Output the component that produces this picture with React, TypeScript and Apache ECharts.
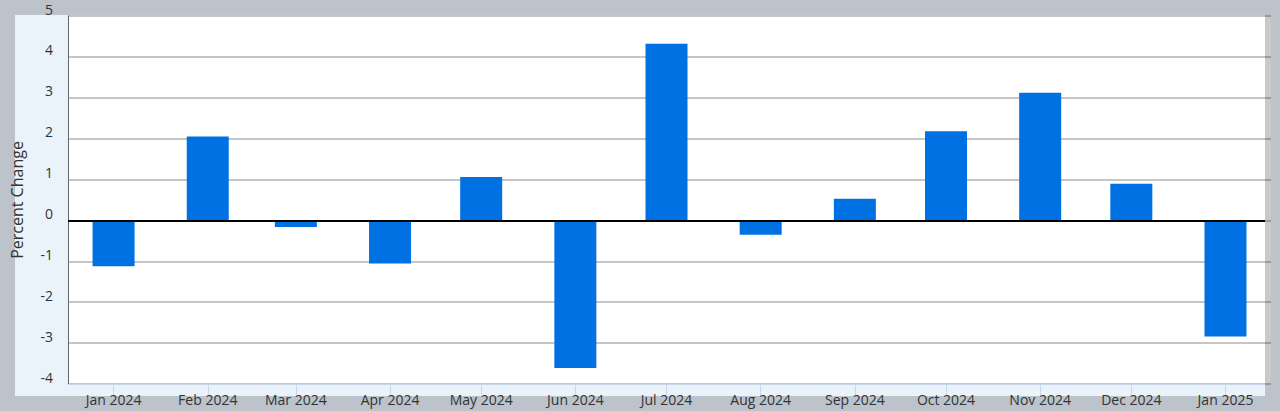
import React, { useEffect, useRef } from "react";
import * as echarts from "echarts";

const MONTH_NAMES = ["Jan", "Feb", "Mar", "Apr", "May", "Jun", "Jul", "Aug", "Sep", "Oct", "Nov", "Dec"];
const YEARS = [2024, 2024, 2024, 2024, 2024, 2024, 2024, 2024, 2024, 2024, 2024, 2024, 2025];
const MONTHS = [0, 1, 2, 3, 4, 5, 6, 7, 8, 9, 10, 11, 0];
const VALUES = [-1.12, 2.05, -0.16, -1.05, 1.06, -3.61, 4.32, -0.35, 0.53, 2.18, 3.12, 0.9, -2.84];
const Y_TICKS = [-4, -3, -2, -1, 0, 1, 2, 3, 4, 5];
const AXIS_TITLE = "Percent Change";

const FONT = "'Open Sans', 'Noto Sans', sans-serif";

export default function App() {
  const ref = useRef<HTMLDivElement>(null);

  useEffect(() => {
    if (!ref.current) return;
    const chart = echarts.init(ref.current, null, { renderer: "svg" });
    const stamps = YEARS.map((y, i) => Date.UTC(y, MONTHS[i], 1));
    const data = stamps.map((t, i) => [t, VALUES[i]]);
    const fmt = (v: number) => {
      const d = new Date(v);
      return `${MONTH_NAMES[d.getUTCMonth()]} ${d.getUTCFullYear()}`;
    };

    chart.setOption({
      animation: false,
      backgroundColor: "#bcc3cb",
      textStyle: { fontFamily: FONT },
      graphic: [
        { type: "rect", z: -10, shape: { x: 15, y: 15, width: 1250, height: 381 }, style: { fill: "#eaf2fa" } },
        { type: "rect", z: -10, shape: { x: 1265, y: 15, width: 6, height: 370 }, style: { fill: "#c9c9c9" } },
      ],
      grid: {
        left: 68,
        right: 15,
        top: 16,
        bottom: 27,
        show: true,
        backgroundColor: "#ffffff",
        borderWidth: 0,
      },
      xAxis: {
        type: "value",
        min: Date.UTC(2023, 11, 17),
        max: Date.UTC(2025, 0, 14),
        axisLine: { show: true, onZero: false, lineStyle: { color: "#ccd6eb", width: 1 } },
        axisTick: { show: true, length: 11, lineStyle: { color: "#ccd6eb" }, customValues: stamps },
        axisLabel: {
          customValues: stamps,
          formatter: fmt,
          color: "#333",
          fontSize: 14,
          fontFamily: FONT,
          margin: 8,
          hideOverlap: false,
        },
        splitLine: { show: false },
      },
      yAxis: [
        {
          type: "value",
          min: -4,
          max: 5,
          interval: 1,
          name: AXIS_TITLE,
          nameLocation: "middle",
          nameGap: 43,
          nameTextStyle: { color: "#333", fontSize: 16, fontFamily: FONT },
          axisLine: { show: true, lineStyle: { color: "#666", width: 1 } },
          axisTick: { show: false },
          axisLabel: {
            color: "#333",
            fontSize: 14,
            fontFamily: FONT,
            margin: 15,
            verticalAlign: "bottom",
            lineHeight: 14,
            formatter: (v: number) => (Y_TICKS.includes(v) ? String(v) : ""),
          },
          splitLine: { show: true, lineStyle: { color: "#c6c6c6", width: 2 } },
        },
        {
          type: "value",
          position: "right",
          min: -4,
          max: 5,
          interval: 1,
          axisLine: { show: false },
          axisTick: { show: true, inside: false, length: 6, lineStyle: { color: "#9a9a9a", width: 2 } },
          axisLabel: { show: false },
          splitLine: { show: false },
        },
      ],
      series: [
        {
          type: "bar",
          yAxisIndex: 0,
          data,
          barWidth: 42,
          itemStyle: { color: "#0071e3" },
          markLine: {
            silent: true,
            symbol: "none",
            label: { show: false },
            lineStyle: { color: "#000", width: 2, type: "solid" },
            data: [{ yAxis: 0 }],
          },
        },
      ],
    });
    return () => chart.dispose();
  }, []);

  return <div ref={ref} style={{ position: "fixed", left: 0, top: 0, width: 1280, height: 411 }} />;
}
